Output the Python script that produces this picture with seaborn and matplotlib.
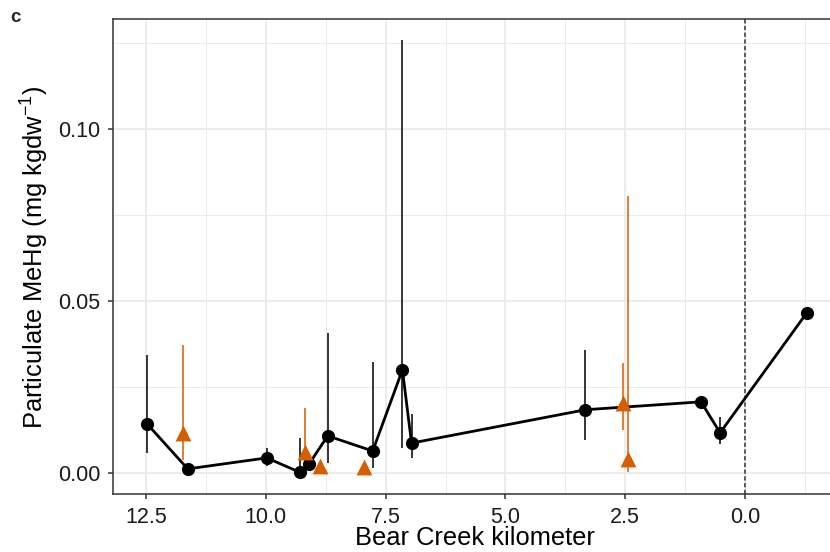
import matplotlib
matplotlib.use("Agg")
import matplotlib.pyplot as plt
import seaborn as sns
import pandas as pd
from matplotlib.ticker import MultipleLocator

# Black series (line + points)
bk_km = [12.48, 11.63, 9.98, 9.29, 9.10, 8.71, 7.77, 7.15, 6.96, 3.33, 0.92, 0.52, -1.29]
bk_val = [0.0143, 0.0012, 0.0044, 0.0002, 0.0026, 0.0108, 0.0064, 0.0300, 0.0087, 0.0184, 0.0207, 0.0117, 0.0466]
bk_lo = [0.0058, 0.0012, 0.0020, 0.0002, 0.0026, 0.0029, 0.0015, 0.0073, 0.0044, 0.0096, 0.0207, 0.0085, 0.0466]
bk_hi = [0.0344, 0.0012, 0.0073, 0.0102, 0.0026, 0.0408, 0.0324, 0.1260, 0.0172, 0.0359, 0.0207, 0.0163, 0.0466]

# Orange series (triangles)
or_km = [11.73, 9.19, 8.87, 7.96, 2.54, 2.44]
or_val = [0.0117, 0.0061, 0.0020, 0.0017, 0.0204, 0.0041]
or_lo = [0.0038, 0.0017, 0.0020, 0.0017, 0.0125, 0.0003]
or_hi = [0.0373, 0.0190, 0.0020, 0.0017, 0.0320, 0.0805]

x_ticks = [12.5, 10.0, 7.5, 5.0, 2.5, 0.0]
x_ticklabels = ["12.5", "10.0", "7.5", "5.0", "2.5", "0.0"]
y_ticks = [0.0, 0.05, 0.10]
y_ticklabels = ["0.00", "0.05", "0.10"]

bk = pd.DataFrame({"km": bk_km, "val": bk_val, "lo": bk_lo, "hi": bk_hi})
orr = pd.DataFrame({"km": or_km, "val": or_val, "lo": or_lo, "hi": or_hi})

ORANGE = "#D55E00"
GRID = "#EBEBEB"
BORDER = "#333333"

sns.set_theme(style="white")
plt.rcParams["font.family"] = ["Liberation Sans", "DejaVu Sans"]
plt.rcParams["mathtext.fontset"] = "custom"
plt.rcParams["mathtext.rm"] = "Liberation Sans"

fig = plt.figure(figsize=(8.3, 5.52), dpi=100)
# panel: left 113px, right beyond the image edge (838px), top 19px, bottom 494px
ax = fig.add_axes([113 / 830, 58 / 552, 725 / 830, 475 / 552])

ax.vlines(bk["km"], bk["lo"], bk["hi"], color="black", lw=1.1, zorder=3)
ax.vlines(orr["km"], orr["lo"], orr["hi"], color=ORANGE, lw=1.1, zorder=3)

sns.lineplot(data=bk, x="km", y="val", sort=True, color="black", lw=2.0,
             ax=ax, zorder=4, estimator=None)
sns.scatterplot(data=bk, x="km", y="val", color="black", s=90, marker="o",
                edgecolor="black", linewidth=0, ax=ax, zorder=5)
sns.scatterplot(data=orr, x="km", y="val", color=ORANGE, s=130, marker="^",
                edgecolor=ORANGE, linewidth=0, ax=ax, zorder=6)

ax.axvline(0, color=BORDER, lw=1.1, ls=(0, (2.8, 1.6)), zorder=2)

ax.set_xlim(13.19, -1.94)
ax.set_ylim(-0.0061, 0.132)
ax.xaxis.set_minor_locator(MultipleLocator(1.25))
ax.yaxis.set_minor_locator(MultipleLocator(0.025))
ax.set_xticks(x_ticks)
ax.set_xticklabels(x_ticklabels)
ax.set_yticks(y_ticks)
ax.set_yticklabels(y_ticklabels)

ax.grid(True, which="major", color=GRID, lw=1.3, zorder=0)
ax.grid(True, which="minor", color=GRID, lw=0.7, zorder=0)
ax.set_axisbelow(True)
for sp in ax.spines.values():
    sp.set_color(BORDER)
    sp.set_linewidth(1.1)

ax.tick_params(axis="both", which="major", direction="out", length=3.6, width=1.1,
               color=BORDER, labelsize=15.5, labelcolor="#1A1A1A",
               bottom=True, left=True)
ax.tick_params(axis="x", which="major", pad=5.5)
ax.tick_params(axis="y", which="major", pad=5.5)
ax.tick_params(axis="both", which="minor", length=0)

ax.set_xlabel("Bear Creek kilometer", fontsize=18.4, color="black")
ax.set_ylabel("Particulate MeHg (mg kgdw$^{-1}$)", fontsize=18.4, color="black")
ax.xaxis.set_label_coords((475 - 113) / 725, (494 - 526) / 475)
ax.yaxis.set_label_coords((50 - 113) / 725, (494 - 257.5) / 475)

fig.text(10 / 830, 1 - 18 / 552, "c", fontsize=13.5, fontweight="bold", va="center", ha="left")

fig.savefig("out.png", dpi=100)
